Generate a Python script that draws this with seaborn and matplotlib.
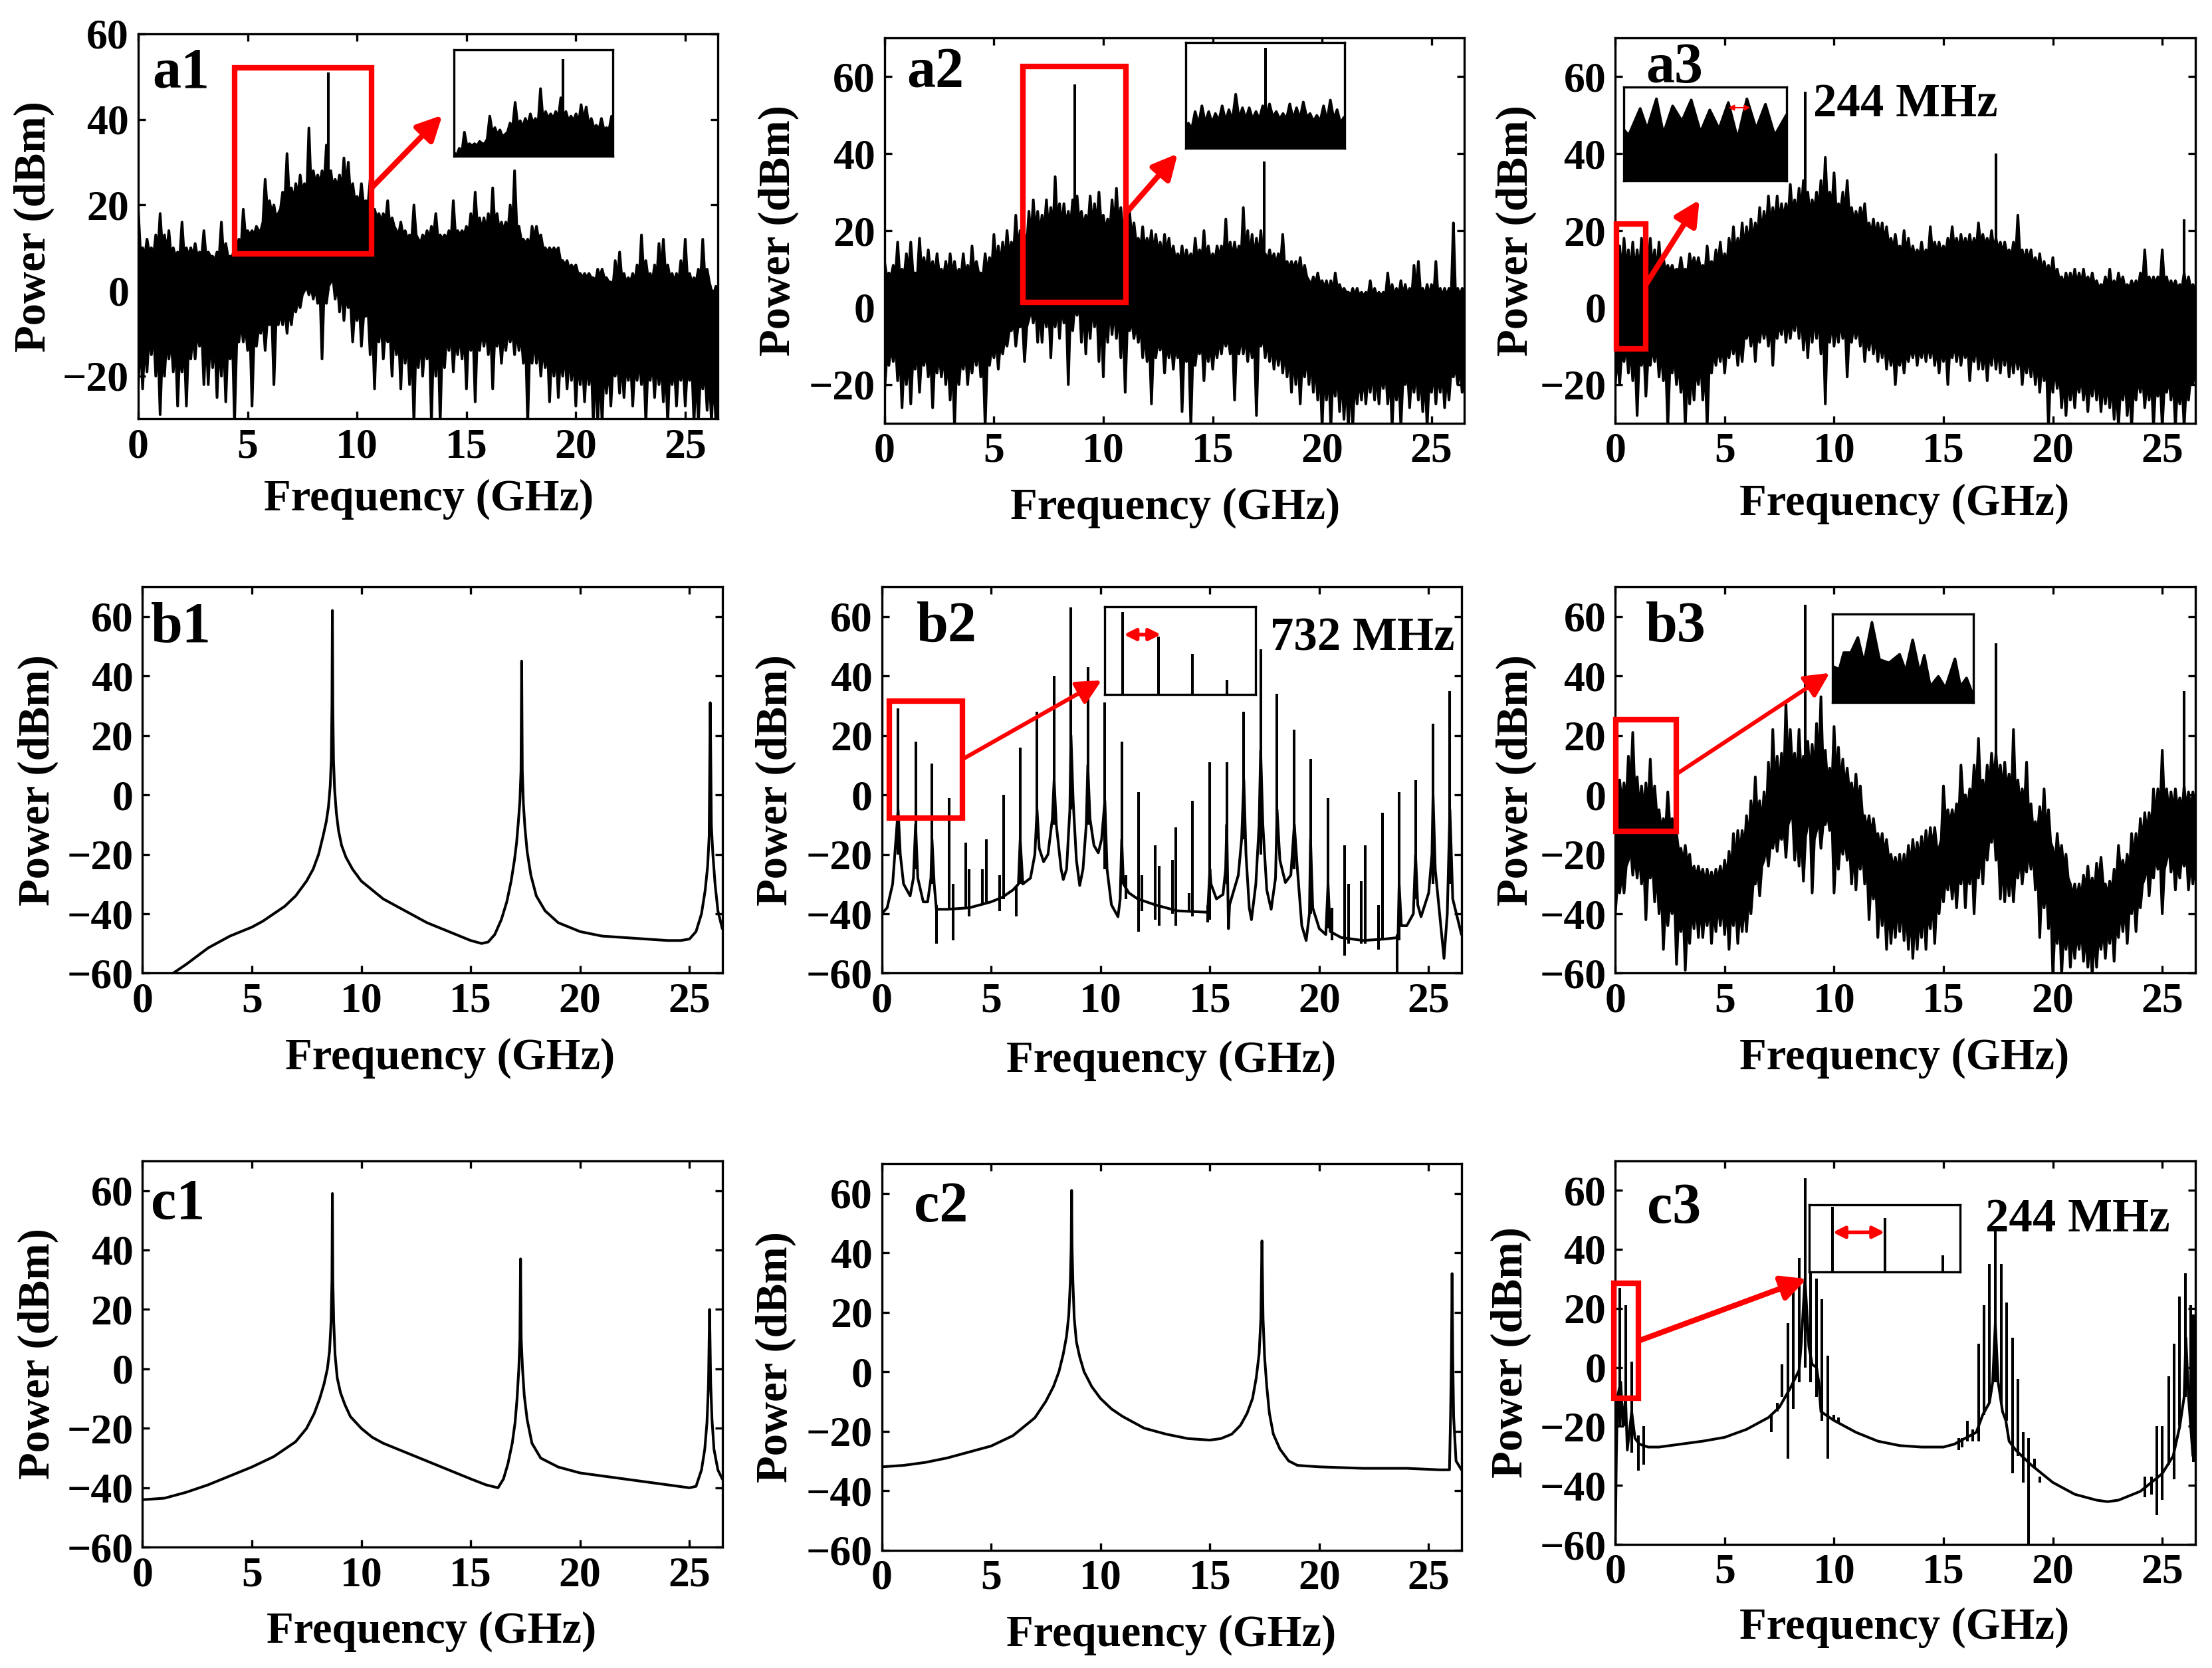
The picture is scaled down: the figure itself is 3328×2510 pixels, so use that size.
import numpy as np
import matplotlib
matplotlib.use("Agg")
import matplotlib.pyplot as plt
from matplotlib.patches import Rectangle
import seaborn as sns

# spectra. Noisy panels: spike tops / bottoms every 0.2 GHz (*_up, *_low)
# and the solid edge of the trace between the spikes (*_up_floor, *_low_floor), at the midpoints
a1_up = [19, 10, 12, 10, 13, 18, 13, 14, 10, 9,
         16, 10, 10, 11, 9, 14, 9, 8, 9, 16,
         11, 8, 10, 12, 19, 14, 14, 15, 14, 26,
         21, 20, 18, 23, 32, 24, 25, 27, 25, 38,
         28, 27, 28, 34, 28, 26, 27, 31, 30, 25,
         22, 25, 21, 26, 19, 18, 18, 21, 17, 14,
         16, 14, 13, 20, 12, 13, 14, 15, 18, 13,
         13, 14, 21, 14, 14, 15, 18, 23, 17, 17,
         18, 24, 18, 16, 16, 20, 28, 15, 12, 12,
         15, 15, 13, 10, 10, 10, 10, 7, 7, 6,
         6, 4, 4, 4, 3, 5, 5, 3, 2, 7,
         9, 4, 3, 4, 6, 13, 7, 4, 6, 11,
         12, 6, 4, 4, 7, 12, 4, 3, 5, 12,
         5, 0, 1]
a1_up_floor = [9, 8, 9, 8, 9, 10, 9, 8, 8, 8,
               8, 8, 8, 8, 8, 8, 8, 7, 8, 8,
               8, 8, 9, 10, 13, 13, 13, 14, 16, 19,
               18, 17, 19, 21, 22, 21, 22, 23, 22, 24,
               25, 25, 25, 26, 24, 24, 23, 24, 22, 21,
               20, 20, 20, 19, 17, 16, 16, 15, 15, 13,
               13, 12, 12, 13, 11, 12, 12, 13, 12, 12,
               12, 12, 13, 13, 13, 13, 14, 15, 14, 14,
               14, 15, 14, 14, 14, 14, 15, 12, 11, 10,
               12, 12, 10, 9, 9, 9, 7, 6, 5, 5,
               4, 3, 3, 3, 2, 3, 3, 2, 1, 2,
               3, 2, 2, 2, 3, 4, 3, 2, 3, 4,
               4, 3, 2, 2, 3, 3, 2, 2, 2, 3,
               2, -1, -1]
a1_low = [-22, -23, -19, -15, -20, -29, -20, -16, -19, -27,
          -19, -27, -16, -16, -13, -22, -22, -18, -25, -20,
          -26, -16, -31, -12, -12, -14, -27, -13, -10, -14,
          -8, -22, -8, -8, -10, -8, -5, -4, 0, -1,
          -2, -3, -16, -3, 2, -2, -5, -7, -4, -12,
          -7, -13, -6, -15, -23, -12, -16, -12, -20, -15,
          -23, -17, -22, -31, -18, -20, -16, -31, -20, -31,
          -18, -14, -19, -15, -16, -23, -14, -26, -14, -13,
          -15, -23, -13, -17, -14, -12, -15, -14, -17, -31,
          -17, -17, -20, -18, -26, -20, -25, -20, -23, -21,
          -27, -22, -26, -22, -31, -31, -31, -24, -27, -20,
          -24, -25, -21, -27, -21, -22, -31, -21, -25, -22,
          -26, -31, -22, -27, -21, -27, -21, -31, -31, -23,
          -28, -31, -31]
a1_low_floor = [-11, -12, -10, -9, -12, -14, -11, -11, -12, -14,
                -12, -12, -10, -9, -9, -10, -10, -11, -12, -11,
                -12, -10, -12, -7, -8, -8, -10, -9, -6, -7,
                -5, -7, -5, -4, -4, -3, -2, -1, 1, 1,
                1, 1, 1, 1, 3, 2, 1, -1, -2, -4,
                -3, -6, -4, -7, -8, -7, -9, -9, -9, -10,
                -10, -11, -12, -11, -11, -12, -10, -11, -10, -11,
                -10, -9, -11, -10, -9, -10, -9, -10, -9, -9,
                -8, -10, -9, -10, -9, -9, -9, -10, -11, -12,
                -11, -12, -13, -13, -14, -14, -15, -14, -15, -15,
                -16, -16, -16, -16, -17, -17, -17, -17, -17, -16,
                -16, -17, -16, -17, -16, -16, -17, -16, -16, -17,
                -17, -17, -17, -18, -17, -18, -17, -18, -19, -18,
                -19, -19, -18]
a1_tone_freq = [8.68]
a1_tone_top = [51]

a2_up = [12, 9, 11, 17, 10, 14, 17, 9, 18, 13,
         15, 12, 14, 10, 12, 14, 12, 10, 14, 11,
         16, 12, 9, 14, 13, 19, 16, 17, 20, 17,
         24, 20, 19, 25, 28, 25, 24, 28, 26, 34,
         27, 27, 25, 28, 29, 25, 24, 29, 27, 30,
         24, 23, 28, 31, 26, 22, 25, 22, 18, 21,
         18, 20, 19, 17, 19, 18, 16, 14, 16, 15,
         14, 18, 15, 20, 16, 14, 16, 16, 23, 17,
         17, 16, 26, 20, 19, 18, 20, 14, 15, 14,
         14, 19, 12, 12, 12, 13, 11, 7, 8, 9,
         7, 7, 7, 9, 6, 5, 4, 5, 5, 4,
         4, 7, 5, 4, 4, 9, 6, 5, 7, 6,
         5, 11, 12, 5, 6, 6, 12, 5, 5, 5,
         22, 5, 5]
a2_up_floor = [8, 8, 8, 8, 8, 9, 9, 8, 9, 9,
               9, 8, 9, 8, 8, 8, 8, 8, 8, 8,
               9, 9, 8, 9, 10, 11, 11, 12, 13, 14,
               15, 15, 16, 18, 19, 19, 20, 20, 20, 21,
               21, 21, 21, 22, 22, 21, 21, 21, 21, 22,
               20, 20, 20, 21, 19, 18, 18, 17, 15, 15,
               15, 14, 14, 13, 14, 13, 12, 12, 11, 12,
               11, 12, 12, 12, 12, 12, 13, 13, 13, 13,
               13, 13, 13, 13, 13, 13, 13, 12, 12, 11,
               11, 10, 10, 10, 9, 8, 8, 6, 6, 6,
               5, 4, 4, 5, 4, 4, 3, 3, 3, 3,
               3, 3, 3, 3, 3, 3, 3, 3, 3, 3,
               3, 4, 4, 3, 3, 3, 3, 3, 3, 3,
               3, 3, 3]
a2_low = [-22, -15, -14, -19, -26, -20, -25, -16, -22, -15,
          -18, -26, -17, -18, -20, -24, -31, -20, -16, -20,
          -17, -15, -18, -31, -15, -13, -16, -12, -10, -6,
          -10, -5, -14, -3, -4, -9, -9, -5, -13, -5,
          -8, -4, -20, -6, -2, -9, -12, -8, -5, -14,
          -18, -9, -7, -8, -13, -22, -6, -8, -9, -13,
          -14, -25, -13, -11, -17, -13, -16, -13, -27, -14,
          -31, -15, -12, -19, -14, -16, -13, -12, -10, -12,
          -24, -12, -12, -14, -13, -28, -10, -13, -14, -16,
          -15, -17, -18, -22, -20, -25, -18, -20, -22, -24,
          -31, -24, -31, -23, -27, -29, -31, -31, -25, -24,
          -25, -22, -24, -25, -21, -25, -31, -24, -31, -20,
          -26, -22, -24, -27, -31, -22, -25, -22, -26, -24,
          -18, -20, -22]
a2_low_floor = [-13, -10, -9, -11, -13, -12, -13, -10, -12, -11,
                -12, -13, -12, -12, -13, -13, -14, -13, -11, -12,
                -11, -10, -12, -13, -10, -8, -9, -8, -6, -3,
                -5, -3, -5, 0, 1, 0, 0, 1, 0, 1,
                1, 1, 0, 1, 2, 1, 0, 1, 1, 0,
                -1, 1, 0, 0, -2, -4, -3, -4, -4, -6,
                -7, -9, -8, -8, -9, -8, -9, -9, -10, -9,
                -11, -10, -8, -9, -9, -9, -8, -7, -7, -7,
                -8, -7, -7, -8, -8, -8, -7, -8, -9, -10,
                -10, -11, -11, -12, -12, -13, -12, -13, -14, -15,
                -16, -16, -17, -16, -17, -18, -18, -18, -18, -17,
                -17, -16, -17, -17, -16, -17, -18, -17, -18, -16,
                -17, -16, -17, -17, -18, -16, -17, -16, -17, -16,
                -15, -15, -15]
a2_tone_freq = [8.68, 17.35, 26.0]
a2_tone_top = [58, 38, 22]

a3_up = [20, 16, 18, 15, 17, 15, 18, 16, 18, 15,
         17, 13, 11, 11, 10, 13, 10, 14, 13, 13,
         11, 16, 12, 15, 17, 14, 18, 21, 18, 22,
         21, 23, 22, 26, 25, 29, 26, 29, 27, 27,
         32, 28, 31, 33, 30, 28, 30, 33, 39, 30,
         35, 27, 30, 33, 26, 25, 26, 27, 22, 23,
         22, 22, 21, 18, 19, 16, 20, 18, 16, 15,
         17, 15, 21, 17, 17, 16, 18, 21, 18, 19,
         18, 19, 18, 22, 19, 18, 20, 18, 17, 17,
         15, 17, 24, 15, 15, 15, 13, 14, 12, 11,
         13, 10, 8, 9, 9, 10, 9, 10, 8, 9,
         7, 6, 8, 10, 7, 9, 8, 6, 7, 7,
         9, 15, 8, 8, 8, 15, 8, 7, 7, 6,
         9, 8, 6]
a3_up_floor = [10, 9, 10, 9, 9, 9, 10, 10, 10, 9,
               9, 9, 9, 9, 9, 9, 9, 10, 10, 10,
               9, 10, 10, 11, 11, 11, 13, 14, 14, 15,
               16, 17, 18, 19, 20, 21, 22, 22, 23, 23,
               24, 24, 25, 24, 24, 25, 25, 25, 26, 26,
               25, 25, 24, 24, 22, 22, 22, 20, 19, 18,
               18, 17, 16, 15, 15, 14, 14, 13, 13, 13,
               13, 13, 14, 14, 14, 14, 15, 15, 15, 15,
               15, 15, 15, 16, 16, 15, 15, 15, 14, 14,
               13, 13, 13, 12, 12, 11, 10, 9, 9, 8,
               8, 7, 6, 6, 6, 6, 6, 6, 6, 6,
               5, 5, 5, 5, 5, 6, 5, 5, 5, 5,
               6, 6, 6, 6, 6, 6, 5, 5, 5, 5,
               5, 5, 5]
a3_low = [-20, -20, -14, -17, -19, -28, -15, -23, -15, -14,
          -18, -19, -31, -17, -20, -22, -31, -25, -24, -20,
          -24, -31, -17, -15, -14, -17, -13, -12, -15, -14,
          -8, -10, -14, -9, -8, -10, -15, -8, -7, -9,
          -8, -6, -8, -11, -13, -9, -8, -12, -25, -9,
          -10, -9, -8, -18, -9, -8, -10, -14, -11, -12,
          -14, -13, -16, -15, -20, -15, -17, -14, -13, -15,
          -13, -14, -13, -15, -17, -14, -20, -13, -14, -15,
          -13, -19, -14, -16, -16, -19, -15, -16, -17, -15,
          -18, -17, -16, -20, -17, -18, -20, -22, -19, -31,
          -22, -21, -26, -28, -24, -26, -22, -24, -27, -23,
          -24, -27, -25, -26, -29, -31, -24, -28, -31, -24,
          -22, -26, -24, -31, -23, -31, -22, -24, -31, -25,
          -31, -24, -20]
a3_low_floor = [-12, -11, -9, -10, -11, -12, -10, -13, -10, -9,
                -11, -13, -15, -12, -14, -15, -16, -16, -15, -13,
                -14, -14, -11, -10, -9, -10, -8, -8, -8, -7,
                -5, -5, -6, -4, -4, -3, -5, -4, -2, -3,
                -3, -1, -1, -3, -2, -2, -2, -3, -4, -3,
                -4, -3, -3, -6, -4, -4, -5, -7, -6, -7,
                -8, -8, -10, -10, -12, -11, -11, -10, -9, -10,
                -9, -9, -9, -10, -10, -9, -10, -9, -9, -10,
                -9, -11, -9, -10, -10, -11, -9, -10, -10, -10,
                -11, -11, -11, -13, -12, -12, -13, -14, -14, -16,
                -15, -16, -18, -18, -18, -18, -17, -18, -19, -17,
                -18, -19, -19, -19, -20, -20, -18, -20, -20, -18,
                -17, -19, -18, -20, -18, -20, -18, -18, -20, -19,
                -20, -18, -15]
a3_tone_freq = [8.68, 17.4, 26.0]
a3_tone_top = [56, 40, 23]
a3_inset_freq = [0, .04, .14, .2, .28, .34, .42, .5, .58, .66, .74, .82, .9, .98, 1.06, 1.14, 1.22, 1.3, 1.4]
a3_inset_up = [7, 5, 14.4, 7.3, 17.8, 5.6, 15.3, 10, 17.4, 6.1, 13.9, 7.3, 16.5, 3.8, 17.8, 7.3, 15.9, 5, 12.1]

b3_up = [0, 5, 4, 13, 21, 6, 3, 4, 12, 3,
         -5, -8, 1, -8, -13, -18, -17, -20, -24, -24,
         -25, -25, -26, -25, -24, -22, -19, -13, -12, -12,
         -7, -2, 6, -2, 1, 11, 22, 13, 14, 31,
         22, 14, 22, 13, 18, 17, 24, 33, 15, 9,
         23, 16, 12, 9, 4, 7, 3, -7, -7, -8,
         -13, -13, -15, -20, -21, -20, -20, -17, -15, -16,
         -14, -12, -11, -11, -18, 3, -5, -5, -3, 10,
         0, 2, 10, 19, 5, 10, 14, 14, 10, 11,
         7, 22, 5, 2, 11, -3, -9, -4, 2, -5,
         -18, -13, -17, -20, -30, -30, -30, -27, -24, -28,
         -23, -21, -30, -29, -25, -17, -22, -20, -13, -13,
         -8, -6, -6, 2, 2, 15, 2, 1, 2, -1,
         3, 1, 1]
b3_up_floor = [-5, -3, -3, 2, -1, -5, -5, -5, -4, -7,
               -12, -12, -11, -14, -19, -23, -24, -27, -28, -28,
               -30, -30, -30, -29, -29, -28, -26, -23, -20, -18,
               -16, -10, -8, -10, -8, -3, 3, 2, 3, 8,
               8, 4, 6, 4, 6, 6, 8, 8, 4, 2,
               5, 3, 2, 1, -3, -3, -7, -12, -14, -14,
               -18, -20, -22, -25, -26, -27, -26, -24, -23, -22,
               -21, -20, -18, -18, -15, -9, -10, -10, -8, -2,
               -5, -3, 0, 0, -1, 2, 4, 4, 1, 1,
               -3, -2, -3, -4, -8, -12, -13, -12, -14, -16,
               -24, -22, -25, -28, -34, -35, -35, -32, -32, -33,
               -30, -30, -34, -33, -30, -26, -27, -26, -22, -20,
               -16, -13, -12, -8, -6, -4, -6, -6, -5, -6,
               -5, -5, -5]
b3_low = [-40, -33, -33, -22, -27, -28, -30, -42, -28, -36,
          -40, -52, -44, -40, -57, -46, -59, -50, -45, -48,
          -48, -44, -50, -46, -44, -47, -52, -44, -50, -46,
          -46, -40, -30, -34, -22, -24, -18, -19, -15, -21,
          -8, -22, -24, -29, -10, -33, -12, -18, -10, -12,
          -33, -25, -20, -22, -30, -32, -25, -30, -42, -35,
          -48, -44, -52, -50, -48, -46, -49, -52, -55, -52,
          -48, -52, -45, -50, -40, -36, -32, -35, -38, -30,
          -38, -30, -40, -28, -30, -22, -16, -22, -35, -36,
          -34, -36, -28, -30, -26, -25, -32, -48, -38, -45,
          -61, -50, -61, -52, -58, -55, -52, -56, -58, -61,
          -58, -52, -55, -50, -56, -48, -46, -50, -40, -46,
          -38, -28, -34, -28, -25, -40, -22, -26, -32, -28,
          -24, -32, -30]
b3_low_floor = [-30, -26, -24, -17, -20, -20, -22, -25, -22, -25,
                -30, -36, -36, -32, -40, -38, -42, -38, -36, -36,
                -38, -36, -38, -36, -36, -36, -38, -36, -38, -36,
                -34, -30, -24, -24, -17, -16, -12, -12, -10, -10,
                -6, -11, -12, -14, -7, -15, -7, -10, -6, -7,
                -17, -15, -14, -16, -18, -20, -18, -22, -28, -28,
                -34, -34, -36, -38, -36, -36, -38, -38, -40, -40,
                -36, -38, -34, -34, -30, -28, -25, -26, -26, -22,
                -25, -20, -24, -18, -16, -14, -9, -16, -22, -24,
                -24, -24, -20, -22, -18, -18, -22, -30, -30, -34,
                -44, -40, -45, -44, -46, -46, -44, -46, -48, -46,
                -46, -44, -44, -42, -42, -38, -36, -38, -33, -34,
                -30, -22, -25, -20, -20, -25, -17, -20, -22, -20,
                -19, -22, -22]
b3_tone_freq = [8.68, 17.4, 26.0]
b3_tone_top = [64, 51, 35]
b3_inset_freq = [0, .13, .22, .36, .5, .62, .78, .93, 1.12, 1.33, 1.45, 1.59, 1.73, 1.82, 1.94, 2.1, 2.24, 2.43, 2.54, 2.66, 2.8]
b3_inset_up = [3.2, 1.8, 8.9, 8.9, 15.3, 4.6, 21.7, 6, 4.6, 8.2, 1.1, 14.3, .3, 7.8, -5.4, -1.1, -6, 6.3, -5.4, -1.8, -9.6]

b1_freq = [1.4, 2, 3, 4, 5, 5.5, 6, 6.5, 7, 7.5, 7.8, 8.05, 8.25, 8.4, 8.5, 8.58, 8.63, 8.66, 8.68, 8.7, 8.73, 8.78, 8.86, 8.96,
           9.1, 9.3, 9.6, 10, 10.5, 11, 12, 13, 14, 15, 15.5, 15.8, 16.1, 16.4, 16.65, 16.85, 17, 17.1, 17.18, 17.25, 17.3,
           17.33, 17.36, 17.41, 17.48, 17.58, 17.75, 18, 18.4, 19, 20, 21, 22, 23, 24, 24.6, 25, 25.3, 25.55, 25.72, 25.83,
           25.9, 25.95, 26, 26.07, 26.17, 26.3, 26.5]
b1_power = [-60, -57, -51.5, -47.5, -44.5, -42.5, -40, -37.5, -34, -29, -25, -20, -14, -9, -4, 3, 12, 30, 62, 30, 12, 2, -6, -12,
            -17, -21, -25, -29, -32, -35, -39, -43, -46, -49, -50, -49.5, -47, -42, -36, -29, -22, -16, -9, -2, 8,
            45, 8, -3, -11, -19, -27, -34, -39, -43, -46, -47.5, -48, -48.5, -49, -49, -48.5, -46, -40, -32, -24,
            -14, 31, -10, -20, -30, -39, -45]

c1_freq = [0, 1, 2, 3, 4, 5, 6, 7, 7.5, 7.85, 8.1, 8.3, 8.45, 8.55, 8.62, 8.66, 8.68, 8.7, 8.74, 8.8, 8.9, 9.05, 9.25, 9.5, 10, 10.5,
           11, 12, 13, 14, 15, 15.7, 16.25, 16.5, 16.7, 16.9, 17.03, 17.12, 17.2, 17.25, 17.28, 17.31, 17.37, 17.45, 17.58, 17.8,
           18.2, 19, 20, 22, 24, 25, 25.3, 25.55, 25.7, 25.8, 25.87, 25.92, 25.97, 26.03, 26.12, 26.3, 26.5]
c1_power = [-44, -43.5, -41.5, -39, -36, -33, -29.5, -24.5, -20, -15, -10, -5, 0, 6, 16, 30, 59, 30, 16, 5, -3, -8, -12, -16, -20, -23,
            -25, -28, -31, -34, -37, -39, -40, -37, -32, -25, -18, -10, 0, 10, 37, 10, 0, -9, -17, -25,
            -30, -33, -35, -37, -39, -40, -39.5, -34, -27, -18, -5, 20, -5, -17, -27, -34, -37]

c2_freq = [0, 1, 2, 3, 4, 5, 6, 7, 7.5, 7.85, 8.1, 8.3, 8.45, 8.55, 8.62, 8.66, 8.68, 8.7, 8.74, 8.8, 8.9, 9.05, 9.25, 9.6, 10, 10.5,
           11, 12, 13, 14, 15, 15.5, 16, 16.4, 16.7, 16.95, 17.12, 17.25, 17.33, 17.38, 17.43, 17.5, 17.6, 17.72, 17.9, 18.2,
           18.6, 19, 20, 22, 24, 25.5, 25.95, 26, 26.04, 26.07, 26.1, 26.14, 26.25, 26.5]
c2_power = [-32, -31.5, -30.5, -29, -27, -25, -21.5, -15.5, -10, -5, 0, 6, 12, 19, 30, 42, 61, 42, 30, 18, 10, 5, 0, -5, -9, -12.5,
            -15, -19, -21, -22.5, -23, -22.5, -21, -18, -14, -9, -2, 6, 18, 44, 18, 5, -5, -14, -21, -26,
            -30, -31.5, -32, -32.5, -32.5, -33, -33, -15, 5, 33, 5, -15, -30, -33]

b2_freq = [0, .25, .5, .65, .75, .85, 1, 1.3, 1.45, 1.55, 1.65, 1.9, 2.1, 2.25, 2.3, 2.4, 2.5, 3, 4, 5, 5.5, 6, 6.25, 6.33, 6.45,
           6.8, 7, 7.1, 7.2, 7.4, 7.6, 7.8, 7.88, 7.98, 8.2, 8.3, 8.45, 8.6, 8.65, 8.75, 8.9, 9.05, 9.2, 9.35, 9.42, 9.52,
           9.7, 9.9, 10.05, 10.2, 10.3, 10.5, 10.8, 10.9, 10.97, 11.05, 11.3, 11.7, 12.5, 13.5, 14.9, 15, 15.05, 15.3, 15.6,
           15.72, 15.77, 15.85, 15.9, 16.1, 16.3, 16.45, 16.55, 16.65, 16.8, 16.9, 17.1, 17.25, 17.32, 17.42, 17.6, 17.8,
           18, 18.07, 18.2, 18.45, 18.7, 18.86, 19, 19.2, 19.4, 19.55, 19.6, 19.7, 20, 20.3, 20.4, 20.5, 21, 22, 23, 23.6,
           23.65, 23.75, 24, 24.3, 24.4, 24.5, 24.65, 25, 25.15, 25.2, 25.3, 25.5, 25.7, 25.85, 25.97, 26.1, 26.3, 26.5]
b2_power = [-40, -38, -30, -15, -5, -20, -30, -34, -28, -10, -28, -36, -36, -28, -15, -30, -38.5, -38.5, -38, -36, -34.5, -32, -30, -15, -30,
            -28, -20, -5, -18, -22.5, -20, -8, 5, -10, -25, -28.5, -25, -5, 20, -2, -22, -30.5, -25, -10, 10, -8,
            -17, -19.5, -15, -2, -25, -37, -41, -35, -15, -30, -33, -35, -37, -39, -39.5, -25, -30, -35, -33.5,
            -25, -10, -45, -37, -32, -27, -15, 5, -20, -38, -42, -30, -10, 15, -10, -32, -38.5,
            -28, -5, -22, -29.5, -27, -10, -25, -44, -49, -40, -15, -38, -45, -47, -30, -46, -48, -49, -48.5, -48,
            -30, -44, -44, -40, -20, -37, -41, -33, -20, 0, -25, -40, -55, -40, -5, -35, -41, -47]
b2_tone_freq = [.75, 1.55, 2.3, 2.5, 3.07, 3.25, 3.84, 4, 4.6, 4.78, 5.38, 5.56, 6.16, 6.33, 7.1, 7.88, 8.65, 9.42, 10.2, 10.97,
                11.16, 11.74, 11.9, 12.5, 12.68, 13.28, 13.45, 14.05, 14.2, 14.9, 15, 15.77, 16.55, 17.32, 18.07, 18.86, 19.6,
                20.4, 20.58, 21.16, 21.35, 21.93, 22.1, 22.7, 22.88, 23.55, 23.65, 24.4, 25.2, 25.97]
b2_tone_top = [29, 18, 10.5, -37, -1, -30, -16, -25, -25, -15, -27, 0, -31, 16, 28, 40, 63, 43, 31, 18,
               -27, 1, -27, -17, -24, -22, -11, -33, -2, -37, 11, 11, 28, 49, 34, 22, 12,
               -1, -38, -17, -30, -29, -17, -37, -6, -47, 1, 5, 24, 35]
b2_tone_low = [-20, -25, -30, -50, -38, -49, -38, -41, -37, -36, -39, -35, -41, -30, -15, -10, -5, -10, -25, -30,
               -35, -46, -39, -42, -44, -40, -44, -39, -41, -43, -42, -30, -15, -20, -15, -25, -40,
               -45, -49, -54, -50, -50, -50, -52, -49, -60, -49, -35, -30, -30]

c3_freq = [0, .05, .1, .25, .35, .47, .55, .75, .9, 1.1, 1.5, 2, 3, 4, 5, 6, 6.5, 7, 7.5, 8, 8.4, 8.5, 8.67, 8.85, 9, 9.2, 9.3, 9.4,
           10, 11, 12, 13, 14, 14.5, 15, 15.5, 16, 16.5, 16.8, 17.1, 17.25, 17.37, 17.5, 17.7, 17.85, 18, 18.3, 19, 20, 21, 22,
           22.5, 23, 24, 25, 25.5, 25.8, 26, 26.08, 26.2, 26.4, 26.5]
c3_power = [-60, -30, -10, -5, -20, -10, -28, -15, -24, -26, -27, -27, -26, -25, -23.7, -21, -19, -17, -13.5, -7, -1, 8, 30, 7, 1, 0, -5, -15,
            -18, -22, -25, -26.5, -27, -27, -27, -26, -24, -22, -16, -12, -5, 15, -5, -15, -18, -25, -28, -33, -39, -43, -45,
            -45.5, -45, -42, -36, -30, -20, -10, 10, -10, -30, -20]
c3_tone_freq = [.22, .47, .75, 1.05, 1.3, 7.13, 7.4, 7.63, 7.88, 8.15, 8.42, 8.67, 8.93, 9.2, 9.45, 9.7, 9.98, 10.2,
                15.7, 15.85, 16.1, 16.33, 16.6, 16.85, 17.1, 17.37, 17.63, 17.9, 18.15, 18.4, 18.65, 18.9, 19.15, 19.4,
                24.2, 24.5, 24.75, 25, 25.3, 25.55, 25.8, 26.05, 26.3, 26.42]
c3_tone_top = [27, 21, 2, -23, -20, -16, -12, 1, 15, 30, 37, 64, 40, 30, 23, 4, -16, -17,
               -24, -24, -18, -21, 8, 21, 35, 47, 35, 22, 10, -4, -22, -24, -31, -37,
               -37, -37, -20, -20, -3, 8, 24, 32, 21, 18]
c3_tone_low = [-20, -20, -29, -35, -33, -22, -15, -10, -31, -14, -5, 0, -5, -10, -18, -31, -18, -19,
               -28, -27, -25, -25, -25, -16, -12, -5, -12, -18, -36, -30, -39, -60, -34, -39,
               -44, -43, -50, -45, -33, -38, -20, -10, -20, -32]

frequency_ticks = [0, 5, 10, 15, 20, 25]
black_lw = 1.45

sns.set_theme(style="ticks")
plt.rcParams['font.family'] = ['Liberation Serif', 'DejaVu Serif']
plt.rcParams['font.weight'] = 'bold'
plt.rcParams['axes.labelweight'] = 'bold'
plt.rcParams['axes.linewidth'] = 1.2
plt.rcParams['text.color'] = 'black'
plt.rcParams['axes.labelcolor'] = 'black'
plt.rcParams['axes.edgecolor'] = 'black'
plt.rcParams['xtick.color'] = 'black'
plt.rcParams['ytick.color'] = 'black'

fig = plt.figure(figsize=(16.64, 12.55), dpi=200)
W, H = 1568.0, 1182.6


def make_panel(left, right, top, bottom, ylim, yticks, name, name_xy, ylabel_x, xlabel_xy):
    ax = fig.add_axes([left / W, 1 - bottom / H, (right - left) / W, (bottom - top) / H])
    ax.set_xlim(0, 26.5)
    ax.set_ylim(*ylim)
    ax.set_xticks(frequency_ticks)
    ax.set_yticks(yticks)
    ax.tick_params(direction='in', top=True, right=True, length=4, width=1.2, labelsize=23, pad=5)
    for lab in ax.get_xticklabels() + ax.get_yticklabels():
        lab.set_fontweight('bold')
    ax.set_xlabel("Frequency (GHz)", fontsize=24, fontweight='bold')
    ax.set_ylabel("Power (dBm)", fontsize=24, fontweight='bold')
    ax.xaxis.set_label_coords((xlabel_xy[0] - left) / (right - left), (bottom - xlabel_xy[1]) / (bottom - top))
    ax.yaxis.set_label_coords((ylabel_x - left) / (right - left), 0.5)
    ax.xaxis.label.set_va('center')
    ax.yaxis.label.set_va('center')
    ax.text(name_xy[0], name_xy[1], name, fontsize=31, fontweight='bold', va='baseline', zorder=6)
    return ax


def draw_noise(ax, up, up_floor, low, low_floor, tone_freq, tone_top):
    # spikes and floor alternate along the frequency axis
    freq = np.arange(len(up) * 2) * 0.1
    top_edge = np.ravel(np.column_stack([up, up_floor]))
    bottom_edge = np.ravel(np.column_stack([low, low_floor]))
    ax.fill_between(freq, bottom_edge, top_edge, color='black', lw=0)
    sns.lineplot(x=freq, y=top_edge, ax=ax, color='black', lw=black_lw, estimator=None)
    sns.lineplot(x=freq, y=bottom_edge, ax=ax, color='black', lw=black_lw, estimator=None)
    ax.vlines(tone_freq, 0, tone_top, color='black', lw=black_lw)


def draw_line(ax, freq, power):
    sns.lineplot(x=freq, y=power, ax=ax, color='black', lw=black_lw, estimator=None, sort=False)


def red_box(ax, x0, x1, y0, y1, lw=3):
    ax.add_patch(Rectangle((x0, y0), x1 - x0, y1 - y0, fill=False, ec='red', lw=lw, zorder=5, clip_on=False))


def red_arrow(ax, start, tip, lw=3, size=28):
    ax.annotate('', xy=tip, xytext=start, zorder=6, annotation_clip=False,
                arrowprops=dict(arrowstyle='-|>', color='red', lw=lw, mutation_scale=size, shrinkA=0, shrinkB=0))


def make_inset(ax, x0, x1, ybot, ytop, xlim, ylim):
    ins = ax.inset_axes([x0, ybot, x1 - x0, ytop - ybot], zorder=7)
    ins.set_xlim(*xlim)
    ins.set_ylim(*ylim)
    ins.set_xticks([])
    ins.set_yticks([])
    ins.set_facecolor('white')
    return ins


def clear_labels(ins):
    ins.set_xlabel('')
    ins.set_ylabel('')


y_a1 = [-20, 0, 20, 40, 60]
y_a = [-20, 0, 20, 40, 60]
y_b = [-60, -40, -20, 0, 20, 40, 60]

# top row
ax = make_panel(98, 509, 24, 297, (-30, 60), y_a1, "a1", (.64, 47.5), 24, (304, 354))
draw_noise(ax, a1_up, a1_up_floor, a1_low, a1_low_floor, a1_tone_freq, a1_tone_top)
red_box(ax, 4.4, 10.66, 8.5, 52)
red_arrow(ax, (10.66, 24), (13.9, 41))
ins = make_inset(ax, .545, .819, .682, .959, (4.4, 10.66), (8.5, 55))
draw_noise(ins, a1_up, a1_up_floor, a1_low, a1_low_floor, a1_tone_freq, a1_tone_top)
clear_labels(ins)

ax = make_panel(627, 1038, 27, 300, (-30, 70), y_a, "a2", (1.03, 57.2), 552, (833, 360))
draw_noise(ax, a2_up, a2_up_floor, a2_low, a2_low_floor, a2_tone_freq, a2_tone_top)
red_box(ax, 6.33, 11.03, 1.3, 62.6)
red_arrow(ax, (11.03, 24.5), (13.4, 40))
ins = make_inset(ax, .52, .794, .714, .989, (6.33, 11.03), (6, 61))
draw_noise(ins, a2_up, a2_up_floor, a2_low, a2_low_floor, a2_tone_freq, a2_tone_top)
clear_labels(ins)

ax = make_panel(1145, 1556, 27, 300, (-30, 70), y_a, "a3", (1.39, 58.5), 1075, (1350, 357))
draw_noise(ax, a3_up, a3_up_floor, a3_low, a3_low_floor, a3_tone_freq, a3_tone_top)
red_box(ax, .06, 1.4, -10.8, 21.8)
red_arrow(ax, (1.4, 6), (3.85, 28))
ax.text(9.05, 49.7, "244 MHz", fontsize=25.5, fontweight='bold', va='baseline')
ins = make_inset(ax, .015, .295, .63, .872, (0, 1.4), (-10.8, 21.8))
ins.fill_between(a3_inset_freq, -10.8, a3_inset_up, color='black', lw=0)
draw_line(ins, a3_inset_freq, a3_inset_up)
ins.annotate('', xy=(1.09, 14.7), xytext=(.9, 14.7), arrowprops=dict(arrowstyle='<|-|>', color='red', lw=.8, mutation_scale=6, shrinkA=0, shrinkB=0))
clear_labels(ins)

# middle row
ax = make_panel(101, 512, 416, 690, (-60, 70), y_b, "b1", (.39, 51.5), 27, (319, 750))
draw_line(ax, b1_freq, b1_power)

ax = make_panel(625, 1036, 416, 690, (-60, 70), y_b, "b2", (1.6, 51.6), 550, (830, 752))
draw_line(ax, b2_freq, b2_power)
ax.vlines(b2_tone_freq, b2_tone_low, b2_tone_top, color='black', lw=black_lw)
red_box(ax, .36, 3.7, -7.7, 31.5)
red_arrow(ax, (3.7, 12), (10.05, 38.5), lw=2.2)
ax.text(17.75, 48.6, "732 MHz", fontsize=25.5, fontweight='bold', va='baseline')
ins = make_inset(ax, .385, .645, .721, .949, (.36, 3.7), (-7.7, 31.5))
ins.vlines(b2_tone_freq, b2_tone_low, b2_tone_top, color='black', lw=black_lw)
ins.annotate('', xy=(1.6, 19), xytext=(.78, 19), arrowprops=dict(arrowstyle='<|-|>', color='red', lw=2, mutation_scale=13, shrinkA=0, shrinkB=0))

ax = make_panel(1145, 1556, 416, 690, (-60, 70), y_b, "b3", (1.39, 51.8), 1075, (1350, 750))
draw_noise(ax, b3_up, b3_up_floor, b3_low, b3_low_floor, b3_tone_freq, b3_tone_top)
red_box(ax, .02, 2.8, -12.2, 25.3)
red_arrow(ax, (2.8, 7), (9.8, 41), lw=2.2)
ins = make_inset(ax, .375, .618, .70, .93, (0, 2.8), (-12.2, 25.3))
ins.fill_between(b3_inset_freq, -12.2, b3_inset_up, color='black', lw=0)
draw_line(ins, b3_inset_freq, b3_inset_up)
clear_labels(ins)

# bottom row
ax = make_panel(101, 512, 823, 1097, (-60, 70), y_b, "c1", (.39, 50.5), 27, (306, 1157))
draw_line(ax, c1_freq, c1_power)

ax = make_panel(625, 1036, 825, 1099, (-60, 70), y_b, "c2", (1.48, 50.5), 550, (830, 1159))
draw_line(ax, c2_freq, c2_power)

ax = make_panel(1145, 1556, 823, 1095, (-60, 70), y_b, "c3", (1.46, 49), 1071, (1350, 1154))
draw_line(ax, c3_freq, c3_power)
ax.vlines(c3_tone_freq, c3_tone_low, c3_tone_top, color='black', lw=black_lw)
red_box(ax, -.08, 1.07, -10.4, 28.6)
red_arrow(ax, (1.07, 9), (8.75, 30))
ax.text(16.9, 46, "244 MHz", fontsize=25.5, fontweight='bold', va='baseline')
ins = make_inset(ax, .335, .595, .71, .886, (.108, .833), (-6.5, 28))
ins.vlines(c3_tone_freq, c3_tone_low, c3_tone_top, color='black', lw=black_lw)
ins.annotate('', xy=(.47, 13.8), xytext=(.22, 13.8), arrowprops=dict(arrowstyle='<|-|>', color='red', lw=2, mutation_scale=13, shrinkA=0, shrinkB=0))

fig.savefig("out.png", dpi=200, facecolor='white')
